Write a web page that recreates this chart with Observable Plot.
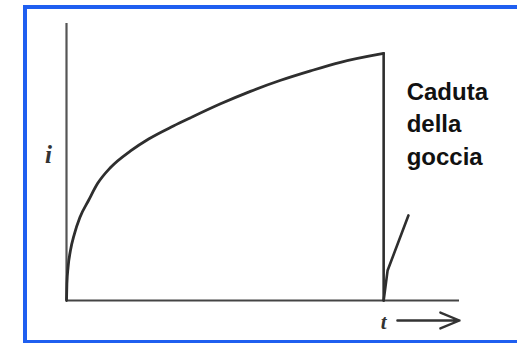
<!DOCTYPE html>
<html>
<head>
<meta charset="utf-8">
<script src="https://cdn.jsdelivr.net/npm/d3@7"></script>
<script src="https://cdn.jsdelivr.net/npm/@observablehq/plot@0.6"></script>
<style>
  html, body { margin: 0; padding: 0; background: #fff; overflow: hidden; }
  #wrap { position: relative; width: 517px; height: 343px; overflow: hidden; }
  #frame {
    position: absolute; left: 23px; top: 5px; width: 494px; height: 331px;
    border: 4px solid #1f5ff0; border-right: none; pointer-events: none;
  }
  #chart { position: absolute; left: 0; top: 0; }
</style>
</head>
<body>
<div id="wrap">
  <div id="chart"></div>
  <div id="frame"></div>
</div>
<script>
// Current growth during the life of one mercury drop (time t, current i)
const growthT = [0, 0.01, 0.04, 0.10, 0.20, 0.34, 0.56, 0.79, 1.12, 1.63, 2.09, 2.72, 3.16, 3.92, 4.68, 5.45, 6.21, 6.97, 8.07];
const growthI = [0, 0.60, 1.20, 1.80, 2.40, 3.00, 3.61, 4.22, 4.80, 5.40, 5.83, 6.30, 6.60, 7.10, 7.55, 7.95, 8.29, 8.60, 8.92];

// Drop falls: current returns to zero, then the next drop starts growing
const dropT = [8.07, 8.07];
const dropI = [8.92, 0];
const nextT = [8.07, 8.17, 8.70];
const nextI = [0, 1.08, 3.07];

const axisMax = 10;
const labelText = "Caduta\ndella\ngoccia";
const tLabel = "t";
const iLabel = "i";

const growth = growthT.map((t, k) => ({t, i: growthI[k]}));
const drop = dropT.map((t, k) => ({t, i: dropI[k]}));
const next = nextT.map((t, k) => ({t, i: nextI[k]}));
const tDrop = dropT[0];
const iTop = dropI[0];

const ink = "#2e2e2e";

const chart = Plot.plot({
  width: 517,
  height: 343,
  marginLeft: 66,
  marginRight: 58,
  marginTop: 23,
  marginBottom: 43,
  x: {domain: [0, axisMax], axis: null},
  y: {domain: [0, axisMax], axis: null},
  marks: [
    Plot.ruleX([0], {y1: 0, y2: axisMax, stroke: "#555", strokeWidth: 2.2}),
    Plot.ruleY([0], {x1: 0, x2: axisMax, stroke: "#444", strokeWidth: 2.2}),
    Plot.line(growth, {x: "t", y: "i", curve: "monotone-x", stroke: ink, strokeWidth: 2.8}),
    Plot.line(drop, {x: "t", y: "i", stroke: ink, strokeWidth: 2.6}),
    Plot.line(next, {x: "t", y: "i", stroke: ink, strokeWidth: 2.6}),
    Plot.text([labelText], {
      x: tDrop, y: iTop, dx: 23, dy: 23,
      textAnchor: "start", lineAnchor: "top", lineHeight: 1.36,
      fontSize: 24, fontWeight: "bold", fontFamily: "Liberation Sans, Arial, sans-serif",
      fill: "#111"
    }),
    Plot.text([tLabel], {
      x: tDrop, y: 0, dy: 28, lineAnchor: "bottom",
      fontSize: 21, fontStyle: "italic", fontWeight: "bold", fontFamily: "Liberation Serif, serif", fill: "#333"
    }),
    Plot.arrow([{x1: 8.42, x2: axisMax, y: 0}], {
      x1: "x1", x2: "x2", y1: "y", y2: "y", dy: 20,
      headLength: 14, headAngle: 45, stroke: "#333", strokeWidth: 2.4
    }),
    Plot.text([iLabel], {
      x: 0, y: 4.95, dx: -18, lineAnchor: "bottom",
      fontSize: 25, fontStyle: "italic", fontWeight: "bold", fontFamily: "Liberation Serif, serif", fill: "#333"
    })
  ]
});
document.getElementById("chart").appendChild(chart);
</script>
</body>
</html>
